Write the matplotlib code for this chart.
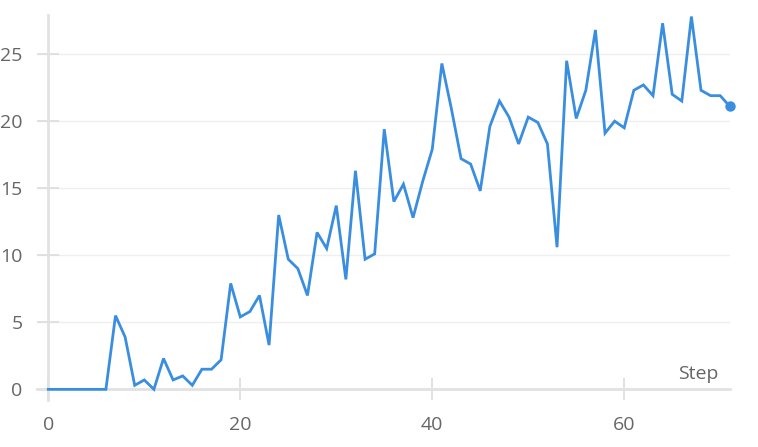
import matplotlib

matplotlib.use("Agg")
import matplotlib.pyplot as plt

# values, one point per step
steps = list(range(72))
values = [
    0, 0, 0, 0, 0, 0, 0, 5.5, 3.9, 0.3,
    0.7, 0, 2.3, 0.7, 1.0, 0.3, 1.5, 1.5, 2.2, 7.9,
    5.4, 5.8, 7.0, 3.3, 13.0, 9.7, 9.0, 7.0, 11.7, 10.5,
    13.7, 8.2, 16.3, 9.7, 10.1, 19.4, 14.0, 15.3, 12.8, 15.5,
    17.9, 24.3, 20.9, 17.2, 16.8, 14.8, 19.6, 21.5, 20.3, 18.3,
    20.3, 19.9, 18.3, 10.6, 24.5, 20.2, 22.3, 26.8, 19.1, 20.0,
    19.5, 22.3, 22.7, 21.9, 27.3, 22.0, 21.5, 27.8, 22.3, 21.9,
    21.9, 21.1,
]
y_ticks = [0, 5, 10, 15, 20, 25]
x_ticks = [0, 20, 40, 60]

line_color = "#3a8ee0"
text_color = "#666666"

plt.rcParams["font.family"] = ["Open Sans", "DejaVu Sans"]

fig = plt.figure(figsize=(7.58, 4.47), dpi=100)
ax = fig.add_axes([0.0488, 0.105, 0.914, 0.861])

ax.plot(steps, values, color=line_color, linewidth=2.0, clip_on=False,
        solid_joinstyle="miter", zorder=3)
ax.plot(steps[-1], values[-1], "o", color=line_color, markersize=6.5,
        clip_on=False, zorder=3)

ax.set_xlim(-1.18, 71)
ax.set_ylim(-0.8, 27.9)

for side in ("top", "right"):
    ax.spines[side].set_visible(False)
ax.spines["left"].set_position(("data", 0))
ax.spines["bottom"].set_position(("data", 0))
for side in ("left", "bottom"):
    ax.spines[side].set_color("#e2e2e2")
    ax.spines[side].set_linewidth(2.0)

ax.set_xticks(x_ticks)
ax.set_yticks(y_ticks)
ax.tick_params(axis="both", direction="inout", length=16, width=1.2,
               color="#dcdcdc", labelcolor=text_color, labelsize=14)
ax.tick_params(axis="y", pad=10.5)
ax.tick_params(axis="x", pad=11)

ax.grid(axis="y", color="#efefef", linewidth=1.0)
ax.set_axisbelow(True)

ax.text(0.983, 0.055, "Step", transform=ax.transAxes, ha="right",
        va="baseline", color=text_color, fontsize=14)

fig.savefig("out.png", dpi=100)
